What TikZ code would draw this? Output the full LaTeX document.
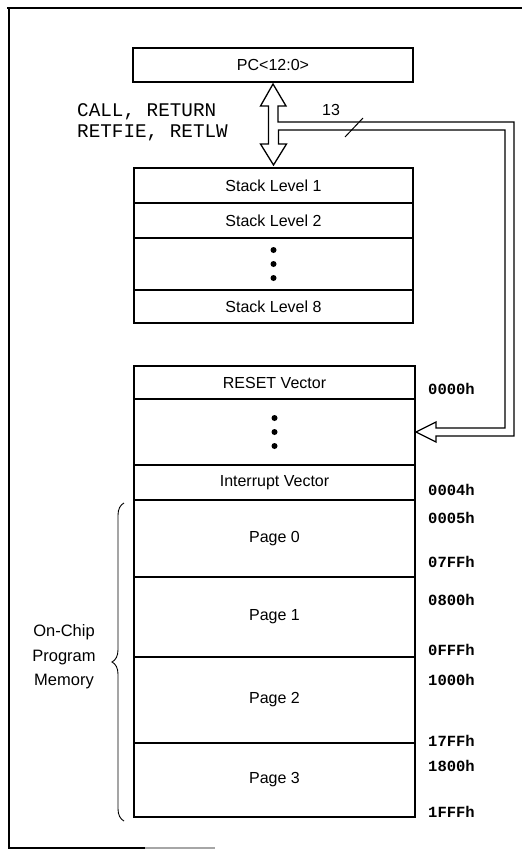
\documentclass[tikz,border=0pt]{standalone}
\usepackage{fontspec}
\setmainfont{Liberation Sans}
\setmonofont{Liberation Mono}
\usetikzlibrary{calc,decorations.pathreplacing}

\tikzset{
  cell/.style={draw, line width=1.2pt, inner sep=0pt, outer sep=0pt, anchor=north,
    font=\fontsize{16}{19}\selectfont},
  stk/.style={cell, minimum width=279pt},
  mem/.style={cell, minimum width=281pt},
  addr/.style={anchor=west, inner sep=0pt, font=\ttfamily\bfseries\fontsize{15.5}{17}\selectfont},
  bus/.style={line width=1.3pt, line join=miter},
  dot/.style={fill=black},
}

\begin{document}
\begin{tikzpicture}[x=1pt, y=-1pt]
  \useasboundingbox (0,0) rectangle (522,851);

  % Cornice
  \draw[line width=1.2pt] (7,8) -- (522,8);
  \draw[line width=1.2pt] (9,8) -- (9,848) -- (145,848);
  \draw[line width=1.2pt, black!35] (145,848) -- (215,848);

  % Program counter
  \node[cell, minimum width=280pt, minimum height=34pt] (pc) at (273,48) {PC<12:0>};

  % Stack
  \node[stk, minimum height=35pt] (s1) at (273.5,168) {Stack Level 1};
  \node[stk, minimum height=35pt] (s2) at (s1.south) {Stack Level 2};
  \node[stk, minimum height=52pt] (sdots) at (s2.south) {};
  \node[stk, minimum height=33pt] (s8) at (sdots.south) {Stack Level 8};
  \foreach \d in {-14,0,14}
    \fill[dot] ([yshift=\d pt]sdots.center) circle (3);

  % Memoria programma
  \node[mem, minimum height=33pt] (reset) at (274.5,366) {RESET Vector};
  \node[mem, minimum height=66pt] (mdots) at (reset.south) {};
  \node[mem, minimum height=35pt] (intv) at (mdots.south) {Interrupt Vector};
  \node[mem, minimum height=77pt] (p0) at (intv.south) {Page 0};
  \node[mem, minimum height=80pt] (p1) at (p0.south) {Page 1};
  \node[mem, minimum height=86pt] (p2) at (p1.south) {Page 2};
  \node[mem, minimum height=74pt] (p3) at (p2.south) {Page 3};
  \foreach \d in {-14,0,14}
    \fill[dot] ([yshift=\d pt]mdots.center) circle (3);

  % Indirizzi
  \foreach \t/\y [count=\i] in {0000h/389, 0004h/490, 0005h/518, 07FFh/562, 0800h/600,
      0FFFh/650, 1000h/680, 17FFh/741, 1800h/766, 1FFFh/812}
    \node[addr] (a\i) at (428,\y) {\t};

  % Istruzioni
  \node[anchor=west, inner sep=0pt, align=left, font=\ttfamily\fontsize{19.3}{21}\selectfont]
    (calls) at (77,122) {CALL, RETURN\\RETFIE, RETLW};

  % Bus a 13 bit (freccia cava)
  \coordinate (ptip) at ([yshift=-2pt]pc.south);
  \coordinate (stip) at ([yshift=3pt]s1.north);
  \coordinate (mtip) at ([xshift=1pt]mdots.east);
  \draw[bus] (ptip) -- ++(13,22) -- ++(-8,0) -- ++(0,16) -- ++(236,0)
    |- ($(mtip)+(20,4)$) -- ++(0,6) -- (mtip) -- ++(20,-10) -- ++(0,6) -- ++(69,0)
    |- ($(stip)+(5,-35)$) -- ++(0,14) -- ++(8,0) -- (stip) -- ++(-13,-21)
    -- ++(8,0) -- ++(0,-38) -- ++(-8,0) -- cycle;
  \node[font=\fontsize{16}{19}\selectfont] (bw) at (331,110) {13};
  \draw[line width=1pt] (345,137) -- (363,118);

  % Graffa
  \draw[line width=0.9pt, decorate, decoration={brace, amplitude=12pt}]
    ([xshift=-10pt, yshift=-4pt]p3.south west) -- ([xshift=-10pt, yshift=-3pt]p0.north west);
  \node[align=center, inner sep=0pt, font=\fontsize{16.5}{24.5}\selectfont]
    (ocpm) at (64,657) {On-Chip\\Program\\Memory};
\end{tikzpicture}
\end{document}
